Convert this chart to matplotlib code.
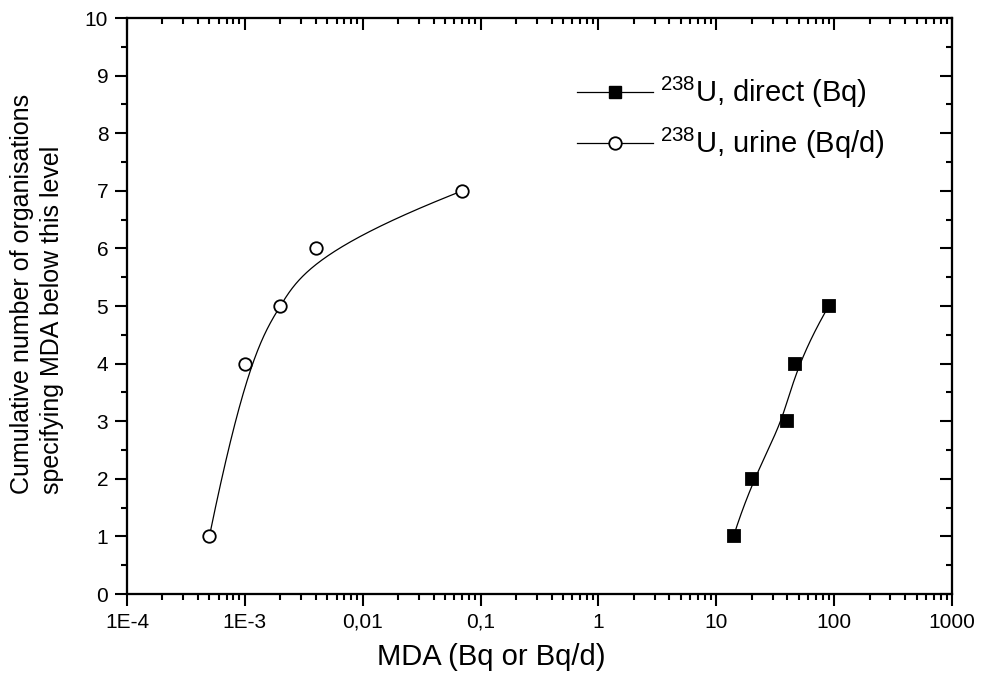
import numpy as np
import matplotlib
matplotlib.use("Agg")
import matplotlib.pyplot as plt
from matplotlib.lines import Line2D
from matplotlib.ticker import FixedLocator, LogLocator, MultipleLocator, NullFormatter

plt.rcParams["font.family"] = ["Liberation Sans", "DejaVu Sans"]
plt.rcParams["mathtext.fontset"] = "custom"
plt.rcParams["mathtext.rm"] = "Liberation Sans"
plt.rcParams["mathtext.it"] = "Liberation Sans:italic"

# MDA values and cumulative number of organisations
direct_mda = [14, 20, 40, 47, 90]
direct_count = [1, 2, 3, 4, 5]
urine_mda = [5e-4, 1e-3, 2e-3, 4e-3, 0.07]
urine_count = [1, 4, 5, 6, 7]

x_ticks = [1e-4, 1e-3, 1e-2, 1e-1, 1, 10, 100, 1000]
x_tick_labels = ["1E-4", "1E-3", "0,01", "0,1", "1", "10", "100", "1000"]


def bspline(x, y, n=300, k=3):
    # clamped cubic B-spline with the points as control points (log x)
    px = np.log10(np.asarray(x, float))
    py = np.asarray(y, float)
    m = len(px)
    knots = np.concatenate([np.zeros(k), np.linspace(0, 1, m - k + 1), np.ones(k)])
    t = np.linspace(0, 1, n)
    t[-1] -= 1e-9
    basis = np.zeros((n, len(knots) - 1))
    for i in range(len(knots) - 1):
        basis[:, i] = (t >= knots[i]) & (t < knots[i + 1])
    for d in range(1, k + 1):
        new = np.zeros((n, len(knots) - 1 - d))
        for i in range(len(knots) - 1 - d):
            a = knots[i + d] - knots[i]
            b = knots[i + d + 1] - knots[i + 1]
            term = np.zeros(n)
            if a > 0:
                term += (t - knots[i]) / a * basis[:, i]
            if b > 0:
                term += (knots[i + d + 1] - t) / b * basis[:, i + 1]
            new[:, i] = term
        basis = new
    return 10 ** (basis @ px), basis @ py


fig = plt.figure(figsize=(9.83, 6.82), dpi=100)
ax = fig.add_axes([127 / 983, 1 - 594 / 682, 825 / 983, 576 / 682])

lw = 0.9
ms = 9
for xs, ys, marker, face in [(direct_mda, direct_count, "s", "black"),
                             (urine_mda, urine_count, "o", "white")]:
    cx, cy = bspline(xs, ys)
    ax.plot(cx, cy, color="black", lw=lw, zorder=2)
    ax.plot(xs, ys, ls="none", marker=marker, ms=ms, mfc=face, mec="black",
            mew=1.3, zorder=3)

ax.set_xscale("log")
ax.set_xlim(1e-4, 1000)
ax.set_ylim(0, 10)
ax.xaxis.set_major_locator(FixedLocator(x_ticks))
ax.set_xticklabels(x_tick_labels)
ax.xaxis.set_minor_locator(LogLocator(base=10, subs=np.arange(2, 10), numticks=20))
ax.xaxis.set_minor_formatter(NullFormatter())
ax.yaxis.set_major_locator(MultipleLocator(1))
ax.yaxis.set_minor_locator(MultipleLocator(0.5))

for s in ax.spines.values():
    s.set_linewidth(1.5)
ax.tick_params(which="both", direction="out", width=1.5, labelsize=15)
ax.tick_params(which="major", length=8.5, pad=5)
ax.tick_params(which="minor", length=4.3)

# mirrored ticks pointing inward on top and right
top = ax.twiny()
top.set_xscale("log")
top.set_xlim(ax.get_xlim())
top.xaxis.set_major_locator(FixedLocator(x_ticks))
top.xaxis.set_minor_locator(LogLocator(base=10, subs=np.arange(2, 10), numticks=20))
top.tick_params(which="both", direction="in", width=1.5, labeltop=False)
top.tick_params(which="major", length=8.5)
top.tick_params(which="minor", length=4.3)
right = ax.twinx()
right.set_ylim(ax.get_ylim())
right.yaxis.set_major_locator(MultipleLocator(1))
right.yaxis.set_minor_locator(MultipleLocator(0.5))
right.tick_params(which="both", direction="in", width=1.5, labelright=False)
right.tick_params(which="major", length=8.5)
right.tick_params(which="minor", length=4.3)
for a in (top, right):
    for s in a.spines.values():
        s.set_linewidth(1.5)

fig.text(491 / 983, 1 - 657 / 682, "MDA (Bq or Bq/d)", fontsize=21,
         ha="center", va="center")
fig.text(37 / 983, 1 - 294 / 682,
         "Cumulative number of organisations\nspecifying MDA below this level",
         fontsize=18, rotation=90, ha="center", va="center",
         multialignment="left", linespacing=1.3)

handles = [
    Line2D([], [], color="black", lw=lw, marker="s", ms=ms, mfc="black", mec="black"),
    Line2D([], [], color="black", lw=lw, marker="o", ms=ms, mfc="white", mec="black", mew=1.3),
]
labels = [r"$^{238}$U, direct (Bq)", r"$^{238}$U, urine (Bq/d)"]
fig.legend(handles, labels, loc="center left",
           bbox_to_anchor=(577 / 983, 1 - 118 / 682), frameon=False,
           fontsize=21, handlelength=2.6, handletextpad=0.25,
           labelspacing=0.55, borderpad=0, borderaxespad=0)

fig.savefig("out.png", dpi=100)
